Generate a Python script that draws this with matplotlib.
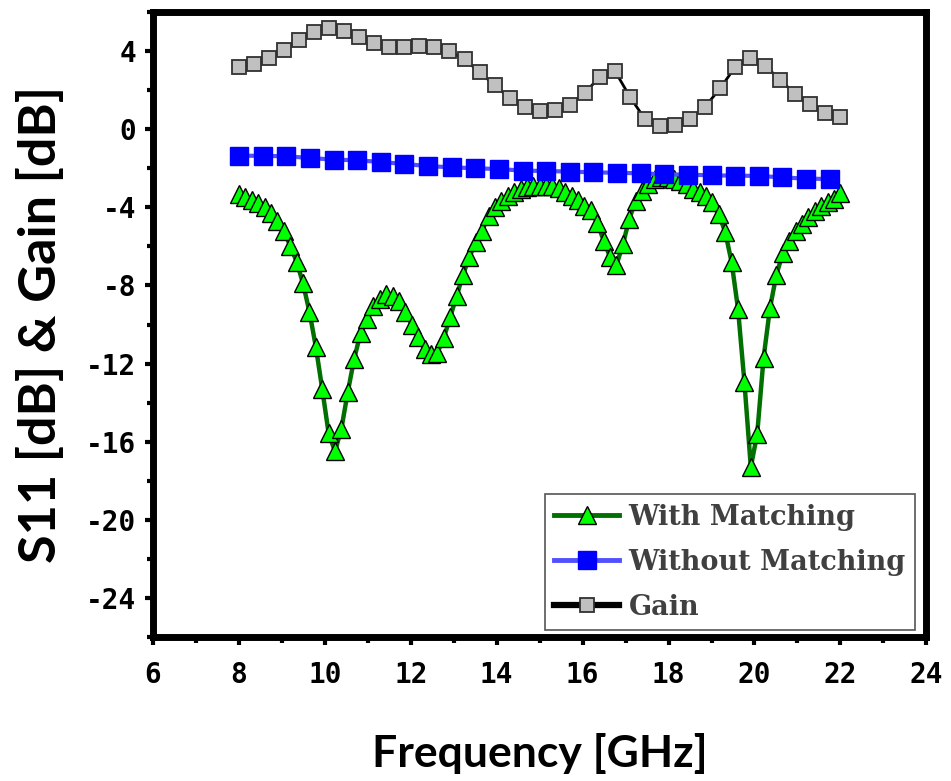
import numpy as np
import matplotlib
matplotlib.use('Agg')
import matplotlib.pyplot as plt
from matplotlib.ticker import MultipleLocator

plt.rcParams['axes.unicode_minus'] = False

# S11 with matching network (95 points, 8-22 GHz)
freq_match = np.linspace(8, 22, 95)
s11_match = [-3.31, -3.49, -3.61, -3.78, -4.00, -4.31, -4.72, -5.23, -5.96, -6.78,
             -7.89, -9.34, -11.13, -13.29, -15.56, -16.50, -15.34, -13.46, -11.76, -10.44,
             -9.71, -9.06, -8.69, -8.43, -8.52, -8.81, -9.34, -10.00, -10.65, -11.25,
             -11.50, -11.45, -10.70, -9.63, -8.56, -7.46, -6.55, -5.79, -5.19, -4.42,
             -4.00, -3.66, -3.40, -3.20, -3.06, -2.97, -2.92, -2.89, -2.89, -2.92,
             -3.02, -3.20, -3.40, -3.62, -3.91, -4.15, -4.80, -5.70, -6.55, -6.95,
             -5.90, -4.60, -3.66, -3.15, -2.80, -2.55, -2.46, -2.45, -2.55, -2.63,
             -2.80, -3.06, -3.23, -3.40, -3.74, -4.34, -5.27, -6.81, -9.20, -12.95,
             -17.30, -15.60, -11.70, -9.15, -7.45, -6.35, -5.70, -5.23, -4.85, -4.50,
             -4.20, -3.95, -3.75, -3.55, -3.28]

# S11 without matching
freq_nomatch = np.arange(26) * 0.55 + 8
s11_nomatch = [-1.36, -1.36, -1.39, -1.47, -1.56, -1.59, -1.68, -1.78, -1.89, -1.95,
               -2.00, -2.04, -2.12, -2.14, -2.17, -2.21, -2.23, -2.26, -2.31, -2.33,
               -2.36, -2.38, -2.39, -2.47, -2.53, -2.55]

# Gain
freq_gain = np.linspace(8, 22, 41)
gain = [3.16, 3.35, 3.66, 4.08, 4.59, 5.00, 5.19, 5.04, 4.73, 4.42,
        4.22, 4.20, 4.26, 4.20, 4.00, 3.57, 2.93, 2.24, 1.61, 1.15,
        0.95, 0.98, 1.24, 1.87, 2.67, 2.99, 1.66, 0.52, 0.14, 0.23,
        0.52, 1.15, 2.09, 3.18, 3.67, 3.25, 2.52, 1.80, 1.27, 0.84, 0.65]

fig = plt.figure(figsize=(9.51, 7.81), dpi=100)
ax = fig.add_axes([0.161, 0.1844, 0.813, 0.8002])

ax.plot(freq_match, s11_match, color='#007000', lw=3.2, marker='^', ms=13,
        mfc='#00ff00', mec='black', mew=1.0, label='With Matching', zorder=3)
ax.plot(freq_nomatch, s11_nomatch, color='#5050ff', lw=3, marker='s', ms=13,
        mfc='#0000ff', mec='#0000ff', mew=1.0, label='Without Matching', zorder=4)
ax.plot(freq_gain, gain, color='black', lw=2.0, marker='s', ms=10.5,
        mfc='#c0c0c0', mec='#303030', mew=1.3, label='Gain', zorder=5)

ax.set_xlim(6, 24)
ax.set_ylim(-26, 6)
ax.xaxis.set_major_locator(MultipleLocator(2))
ax.xaxis.set_minor_locator(MultipleLocator(1))
ax.yaxis.set_major_locator(MultipleLocator(4))
ax.yaxis.set_minor_locator(MultipleLocator(2))
ax.set_yticks([4, 0, -4, -8, -12, -16, -20, -24])

for s in ax.spines.values():
    s.set_linewidth(5)
ax.tick_params(which='major', direction='out', length=6, width=3, pad=11)
ax.tick_params(which='minor', direction='out', length=4, width=3)
ax.tick_params(axis='y', which='major', pad=6)
for lab in ax.get_xticklabels() + ax.get_yticklabels():
    lab.set_fontfamily('DejaVu Sans Mono')
    lab.set_fontweight('bold')
    lab.set_fontsize(20)

ax.set_xlabel('Frequency [GHz]', fontfamily='Lato', fontweight='bold',
              fontsize=32, labelpad=32)
ax.set_ylabel('S11 [dB] & Gain [dB]', fontfamily='Lato', fontweight='bold',
              fontsize=37.5, labelpad=15)

leg = ax.legend(loc='lower right', bbox_to_anchor=(0.986, 0.011), borderaxespad=0,
                prop={'family': 'DejaVu Serif', 'weight': 'bold', 'size': 19.5},
                fancybox=False, framealpha=1, edgecolor='#555555',
                handlelength=2.4, handletextpad=0.35, labelspacing=0.66,
                borderpad=0.35)
leg.get_frame().set_linewidth(1.2)
for t in leg.get_texts():
    t.set_color('#404040')
for ln, w in zip(leg.get_lines(), [3.5, 3.5, 4.5]):
    ln.set_linewidth(w)

plt.savefig('out.png', dpi=100)
